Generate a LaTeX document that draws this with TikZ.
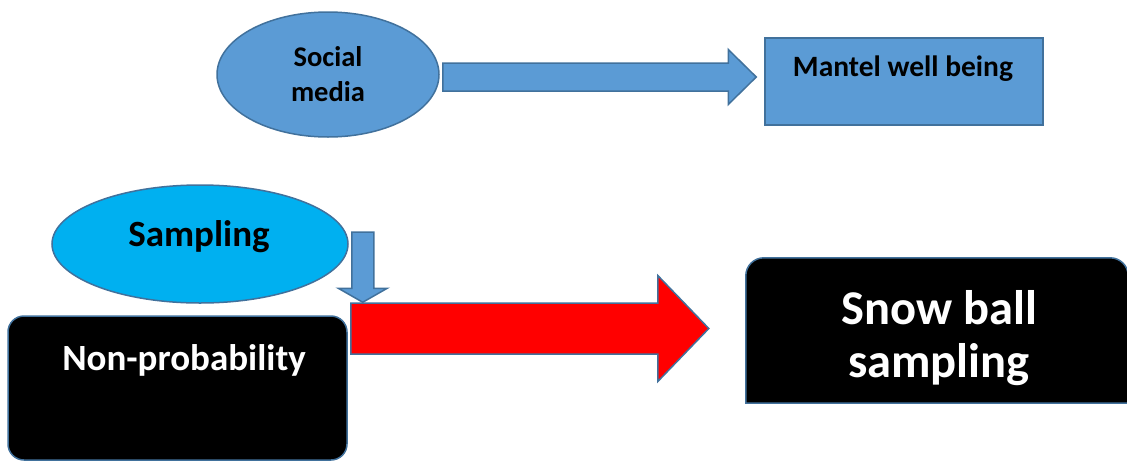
\documentclass[tikz,border=0pt]{standalone}
\usepackage{fontspec}
\setmainfont{Carlito}
\usetikzlibrary{shapes.geometric,calc}

\definecolor{boxblue}{RGB}{91,155,213}
\definecolor{edgeblue}{RGB}{65,113,156}
\definecolor{skyblue}{RGB}{0,176,240}

\begin{document}
\begin{tikzpicture}[
        x=1pt, y=-1pt,
        % Stile per le ellissi (blu)
        oval/.style={ellipse, draw=edgeblue, line width=1.5pt, inner sep=0pt},
        % Stile per i rettangoli
        bluebox/.style={rectangle, draw=edgeblue, fill=boxblue, line width=1.5pt},
        blackbox/.style={rectangle, draw=edgeblue, fill=black, line width=1.5pt},
        % Stile per le frecce piene
        bluearrow/.style={draw=edgeblue, fill=boxblue, line width=1.5pt, line join=miter},
        redarrow/.style={bluearrow, fill=red},
        % Testi
        darktext/.style={text=black, inner sep=0pt},
        lighttext/.style={text=white, inner sep=0pt}
    ]

        \useasboundingbox (0,0) rectangle (1127,461);

        % --- RIGA IN ALTO ---
        \node[oval, fill=boxblue, minimum width=222, minimum height=125, align=center,
              font=\bfseries\fontsize{28.5}{35}\selectfont] (social) at (328,74.5) {Social\\media};
        \node[bluebox, minimum width=278, minimum height=87] (mantel) at (904,81.5) {};
        \node[darktext, anchor=base, font=\bfseries\fontsize{29.5}{35}\selectfont]
              (mantelT) at ([shift={(-1,39)}]mantel.north) {Mantel well being};

        % Freccia blu (orizzontale)
        \coordinate (smTail) at ([shift={(3,2.5)}]social.east);
        \coordinate (smTip)  at ($(mantel.west |- smTail)+(-8,0)$);
        \draw[bluearrow] ($(smTail)+(0,-14)$) -- ($(smTip)+(-28,-14)$) -- ($(smTip)+(-28,-27.5)$)
              -- (smTip) -- ($(smTip)+(-28,27.5)$) -- ($(smTip)+(-28,14)$) -- ($(smTail)+(0,14)$) -- cycle;

        % --- RIGA IN BASSO ---
        \node[oval, fill=skyblue, minimum width=296, minimum height=118] (samp) at (200,244) {};
        \node[darktext, anchor=base, font=\bfseries\fontsize{37}{44}\selectfont]
              (sampT) at ([shift={(-1,2)}]samp.center) {Sampling};

        \node[blackbox, rounded corners=16, minimum width=339, minimum height=144] (nonprob) at (177.5,388) {};
        \node[lighttext, anchor=base, font=\bfseries\fontsize{37}{44}\selectfont]
              (nonprobT) at ([shift={(6.5,55)}]nonprob.north) {Non-probability};

        % Freccia blu (verticale)
        \coordinate (sTail) at ([shift={(14,-12)}]samp.east);
        \coordinate (sTip)  at ($(sTail |- nonprob.north)+(0,-13)$);
        \draw[bluearrow] ($(sTail)+(-11,0)$) -- ($(sTip)+(-11,-14)$) -- ($(sTip)+(-24.5,-14)$)
              -- (sTip) -- ($(sTip)+(24.5,-14)$) -- ($(sTip)+(11,-14)$) -- ($(sTail)+(11,0)$) -- cycle;

        % Riquadro nero (solo angoli in alto arrotondati)
        \node[rectangle, minimum width=382, minimum height=145, inner sep=0pt] (snow) at (937,330.5) {};
        \draw[draw=edgeblue, fill=black, line width=1.5pt, rounded corners=18]
              (snow.west) -- (snow.north west) -- (snow.north east) -- (snow.east)
              [sharp corners] -- (snow.south east) -- (snow.south west) -- cycle;
        \node[lighttext, align=center, font=\bfseries\fontsize{48.5}{53}\selectfont]
              (snowT) at ([shift={(2,7.5)}]snow.center) {Snow ball\\sampling};

        % Freccia rossa
        \coordinate (npTail) at ([shift={(3,-59.5)}]nonprob.east);
        \coordinate (npTip)  at ($(snow.west |- npTail)+(-37,0)$);
        \draw[redarrow] ($(npTail)+(0,-25.5)$) -- ($(npTip)+(-51,-25.5)$) -- ($(npTip)+(-51,-53)$)
              -- (npTip) -- ($(npTip)+(-51,53)$) -- ($(npTip)+(-51,25.5)$) -- ($(npTail)+(0,25.5)$) -- cycle;

    \end{tikzpicture}
\end{document}
